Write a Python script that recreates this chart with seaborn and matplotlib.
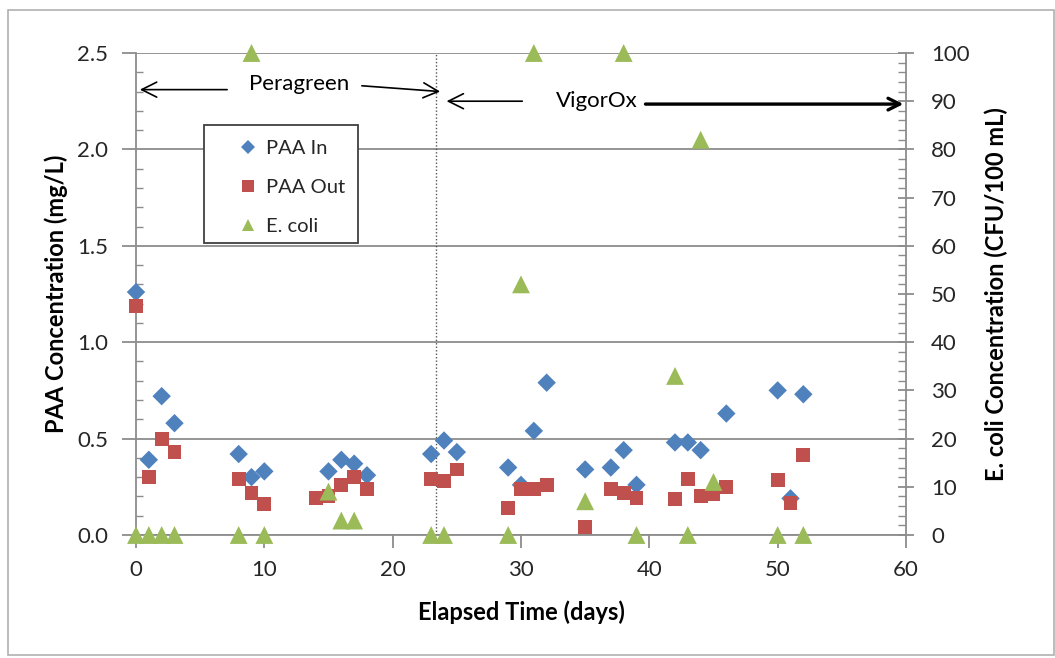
import numpy as np
import pandas as pd
import seaborn as sns
import matplotlib.pyplot as plt
from matplotlib.lines import Line2D
from matplotlib.patches import Rectangle
from matplotlib.ticker import MultipleLocator

# values
paa_in_day = [0, 1, 2, 3, 8, 9, 10, 15, 16, 17, 18, 23, 24, 25, 29, 30, 31, 32,
              35, 37, 38, 39, 42, 43, 44, 46, 50, 51, 52]
paa_in = [1.26, 0.39, 0.72, 0.58, 0.42, 0.30, 0.33, 0.33, 0.39, 0.37, 0.31, 0.42,
          0.49, 0.43, 0.35, 0.26, 0.54, 0.79, 0.34, 0.35, 0.44, 0.26, 0.48, 0.48,
          0.44, 0.63, 0.75, 0.19, 0.73]

paa_out_day = [0, 1, 2, 3, 8, 9, 10, 14, 15, 16, 17, 18, 23, 24, 25, 29, 30, 31,
               32, 35, 37, 38, 39, 42, 43, 44, 45, 46, 50, 51, 52]
paa_out = [1.19, 0.30, 0.50, 0.43, 0.29, 0.22, 0.16, 0.19, 0.20, 0.26, 0.30, 0.24,
           0.29, 0.28, 0.34, 0.14, 0.24, 0.24, 0.26, 0.04, 0.24, 0.22, 0.19, 0.185,
           0.29, 0.20, 0.21, 0.25, 0.285, 0.165, 0.415]

ecoli_day = [0, 1, 2, 3, 8, 9, 10, 15, 16, 17, 23, 24, 29, 30, 31, 35, 38, 39,
             42, 43, 44, 45, 50, 52]
ecoli = [0, 0, 0, 0, 0, 100, 0, 9, 3, 3, 0, 0, 0, 52, 100, 7, 100, 0, 33, 0, 82,
         11, 0, 0]

switch_day = 23.4

BLUE, RED, GREEN = "#4F81BD", "#C0504D", "#9BBB59"
GRID = "#8c8c8c"
TXT = "#262626"

sns.set_theme(style="white")
plt.rcParams["font.family"] = ["Lato", "DejaVu Sans"]

fig = plt.figure(figsize=(10.55, 6.58), dpi=100)
ax = fig.add_axes([136 / 1055, 1 - 535 / 658, 770 / 1055, 482 / 658])
ax2 = ax.twinx()

df_in = pd.DataFrame({"day": paa_in_day, "val": paa_in})
df_out = pd.DataFrame({"day": paa_out_day, "val": paa_out})
df_ec = pd.DataFrame({"day": ecoli_day, "val": ecoli})

sns.scatterplot(data=df_in, x="day", y="val", ax=ax, marker="D", color=BLUE,
                s=88, edgecolor="none", clip_on=False, zorder=3)
sns.scatterplot(data=df_out, x="day", y="val", ax=ax, marker="s", color=RED,
                s=100, edgecolor="none", clip_on=False, zorder=3)
sns.scatterplot(data=df_ec, x="day", y="val", ax=ax2, marker="^", color=GREEN,
                s=165, edgecolor="none", clip_on=False, zorder=3)

ax.set_xlim(0, 60)
ax.set_ylim(0, 2.5)
ax2.set_ylim(0, 100)
ax.xaxis.set_major_locator(MultipleLocator(10))
ax.yaxis.set_major_locator(MultipleLocator(0.5))
ax.yaxis.set_minor_locator(MultipleLocator(0.1))
ax2.yaxis.set_major_locator(MultipleLocator(10))
ax2.yaxis.set_minor_locator(MultipleLocator(2))
ax.yaxis.set_major_formatter(plt.FormatStrFormatter("%.1f"))

ax.set_axisbelow(True)
ax.yaxis.grid(True, color=GRID, lw=1.3)
ax.xaxis.grid(False)

for a in (ax, ax2):
    a.spines["top"].set_visible(False)
    for side in ("left", "right", "bottom"):
        a.spines[side].set_color(GRID)
        a.spines[side].set_linewidth(1.3)
ax.spines["right"].set_visible(False)
ax2.spines["left"].set_visible(False)
ax2.spines["bottom"].set_visible(False)

ax.tick_params(axis="y", which="major", direction="out", length=10, width=1.3,
               color=GRID, labelsize=16, labelcolor=TXT, pad=10, left=True)
ax.tick_params(axis="y", which="minor", direction="in", length=5, width=1,
               color=GRID, left=True)
ax.tick_params(axis="x", which="major", direction="out", length=9, width=1.3,
               color=GRID, labelsize=16, labelcolor=TXT, pad=9, bottom=True)
ax2.tick_params(axis="y", which="major", direction="inout", length=12, width=1.3,
                color=GRID, labelsize=16, labelcolor=TXT, pad=12, right=True)
ax2.tick_params(axis="y", which="minor", direction="in", length=6, width=1,
                color=GRID, right=True)

ax.set_xlabel("Elapsed Time (days)", fontsize=17, fontweight="bold", color="black")
ax.set_ylabel("PAA Concentration (mg/L)", fontsize=17, fontweight="bold", color="black")
ax2.set_ylabel("E. coli Concentration (CFU/100 mL)", fontsize=17,
               fontweight="bold", color="black", rotation=90)
ax.xaxis.set_label_coords(0.5, -0.135)
ax.yaxis.set_label_coords(-0.088, 0.5)
ax2.yaxis.set_label_coords(1.102, 0.5)
ax2.yaxis.label.set_va("top")

# treatment switch
ax.axvline(switch_day, ymin=0, ymax=1, color="#555555", lw=1, ls=(0, (1, 1.5)), zorder=1)

arrow_thin = dict(arrowstyle="->,head_length=0.9,head_width=0.45", lw=1.2, color="black",
                  shrinkA=0, shrinkB=0)
ax.text(12.7, 2.34, "Peragreen", fontsize=16, ha="center", va="center", color="black")
ax.annotate("", xy=(0.3, 2.31), xytext=(7.1, 2.31), arrowprops=arrow_thin)
ax.annotate("", xy=(23.7, 2.30), xytext=(17.6, 2.33), arrowprops=arrow_thin)
ax.text(35.9, 2.25, "VigorOx", fontsize=16, ha="center", va="center", color="black")
ax.annotate("", xy=(24.2, 2.25), xytext=(30.1, 2.25), arrowprops=arrow_thin)
ax.annotate("", xy=(59.8, 2.235), xytext=(39.7, 2.235),
            arrowprops=dict(arrowstyle="->,head_length=0.7,head_width=0.35", lw=2.4,
                            color="black", shrinkA=0, shrinkB=0))

# legend with its own frame
ax2.add_patch(Rectangle((0.0883, 0.6058), 0.2, 0.2448, transform=ax.transAxes,
                        facecolor="white", edgecolor="#404040", lw=1.3, zorder=4))
handles = [
    Line2D([], [], ls="none", marker="D", color=BLUE, markersize=7, markeredgewidth=0),
    Line2D([], [], ls="none", marker="s", color=RED, markersize=8, markeredgewidth=0),
    Line2D([], [], ls="none", marker="^", color=GREEN, markersize=9, markeredgewidth=0),
]
leg = ax2.legend(handles, ["PAA In", "PAA Out", "E. coli"], loc="upper left",
                 bbox_to_anchor=(0.135, 0.82), bbox_transform=ax.transAxes,
                 frameon=False, fontsize=14.5, borderpad=0, borderaxespad=0,
                 handlelength=0.8, handletextpad=0.5, labelspacing=1.1)
leg.set_zorder(5)
for t in leg.get_texts():
    t.set_color(TXT)

# outer chart border
fig.patches.append(Rectangle((8 / 1055, 3 / 658), 1046 / 1055, 645 / 658,
                             transform=fig.transFigure, fill=False,
                             edgecolor="#b0b0b0", lw=1.2))

fig.savefig("out.png", dpi=100)
